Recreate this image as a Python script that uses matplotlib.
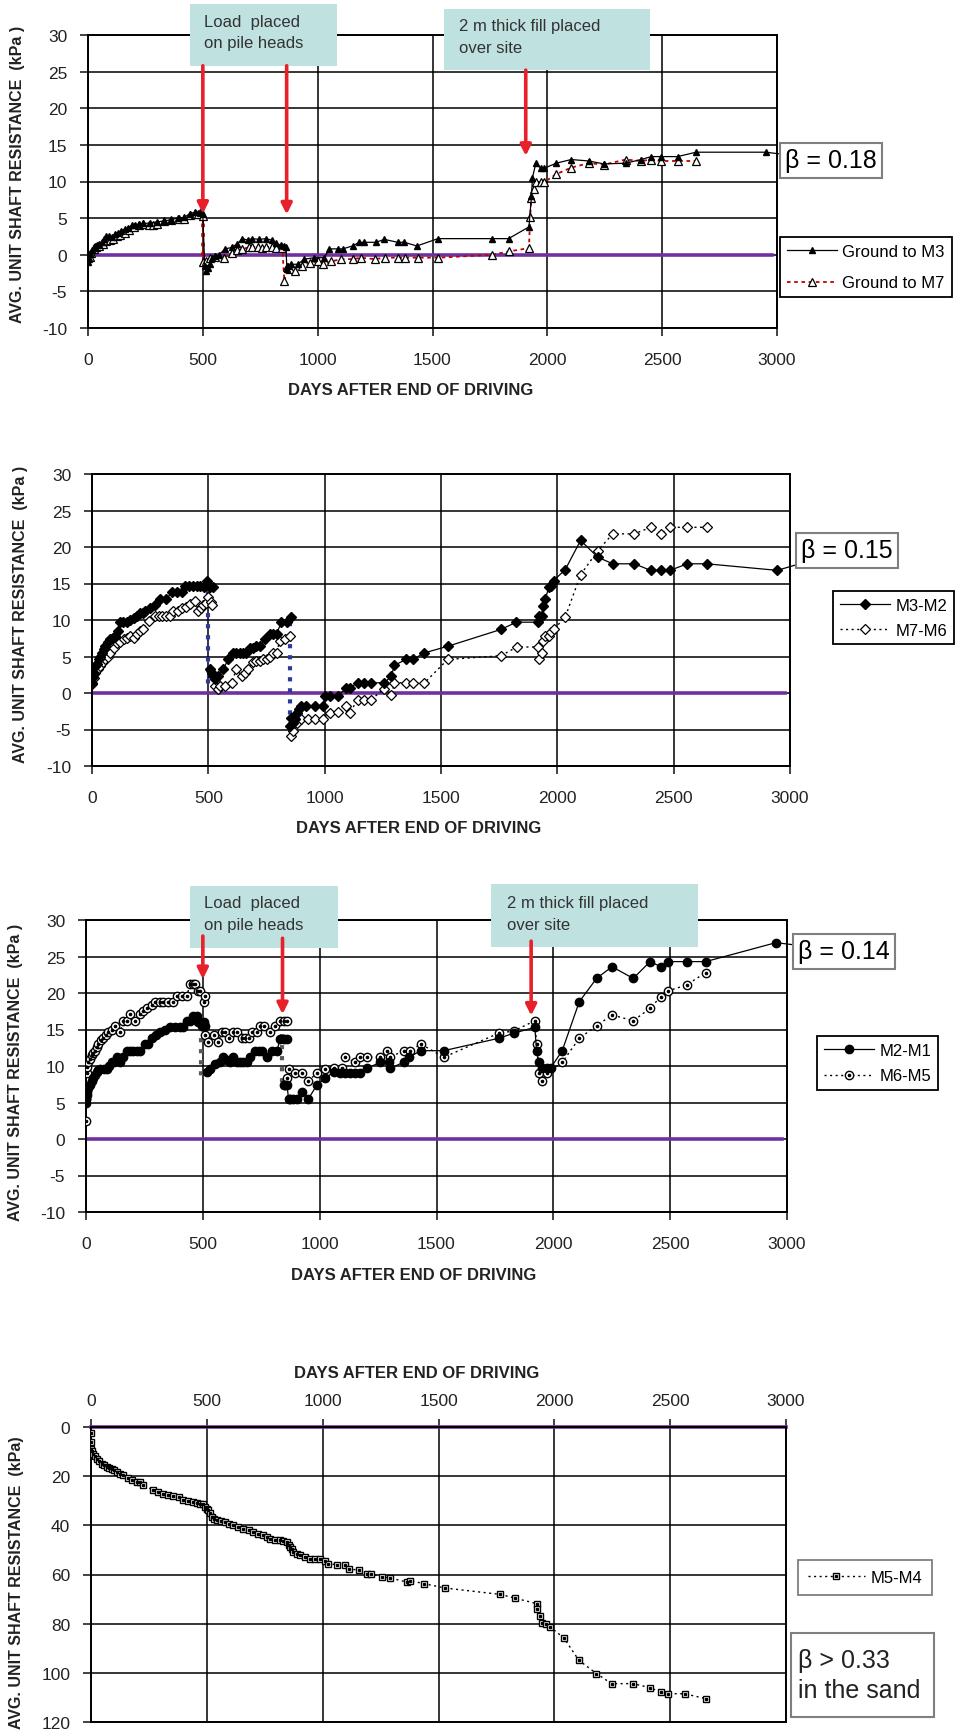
import numpy as np
import matplotlib
matplotlib.use('Agg')
import matplotlib.pyplot as plt
from matplotlib.patches import Rectangle

plt.rcParams['font.family'] = ['Liberation Sans', 'DejaVu Sans']
plt.rcParams['axes.unicode_minus'] = False

nan = np.nan

# ---------------- panel 1 : ground to M3 / M7 ----------------
p1_m3_days = [0, 5, 10, 18, 25, 32, 40, 50, 60, 70, 80, 92, 105, 118, 130, 145, 160, 175, 190, 205,
              220, 240, 270, 300, 330, 362, 390, 420, 442, 465, 487, 500,
              508, 515, 521, 530, 541, 555, 570, 597, 626, 650, 672, 695, 716, 745, 774, 800, 817, 840, 852, 862,
              866, 871, 884, 913, 942, 986, 1029, 1051, 1087, 1109, 1152, 1181, 1203, 1254, 1290, 1348, 1377,
              1432, 1524, 1761, 1831, 1920, 1931, 1935, 1950, 1971, 1986, 2039, 2104, 2181, 2246, 2341, 2409,
              2452, 2494, 2567, 2648, 2950]
p1_m3_vals = [-1.0, -0.5, 0.2, 0.6, 1.0, 1.2, 1.3, 1.5, 1.8, 2.2, 2.5, 2.6, 2.4, 2.9, 3.0, 3.3, 3.5, 3.6, 4.0, 4.1,
              4.2, 4.3, 4.3, 4.5, 4.6, 4.8, 5.0, 5.1, 5.6, 5.8, 5.8, 5.5,
              -1.5, -2.2, -1.8, -1.2, -0.5, -0.2, 0.0, 0.8, 1.0, 1.5, 2.2, 2.0, 2.2, 2.1, 2.2, 2.0, 1.6, 1.3, 1.2, 1.0,
              -2.0, -1.5, -1.3, -1.3, -0.6, -0.4, -0.4, 0.8, 0.8, 0.8, 1.2, 1.7, 1.7, 1.7, 2.1, 1.7, 1.7,
              1.2, 2.2, 2.2, 2.2, 3.8, 8.0, 10.5, 12.5, 11.8, 11.8, 12.5, 13.0, 12.8, 12.4, 12.5, 13.0,
              13.4, 13.4, 13.4, 14.0, 14.0]

p1_m7_days = [0, 8, 15, 25, 35, 50, 65, 80, 95, 110, 125, 140, 160, 180, 200, 220, 240, 265, 283, 300,
              330, 362, 395, 420, 445, 465, 480, 492, 500, 500,
              515, 530, 555, 590, 626, 650, 672, 700, 716, 740, 759, 774, 800, 817, 846, 855,
              866, 880, 902, 930, 966, 1002, 1024, 1060, 1103, 1154, 1190, 1248, 1292, 1350, 1379, 1435,
              1526, 1761, 1831, 1920, 1925, 1931, 1940, 1950, 1971, 1986, 2039, 2104, 2181, 2246, 2341,
              2409, 2452, 2494, 2567, 2648]
p1_m7_vals = [-0.5, -0.3, 0.3, 0.8, 1.0, 1.2, 1.4, 1.9, 2.0, 2.2, 2.5, 2.7, 3.0, 3.4, 3.8, 4.0, 4.2, 4.1, 4.1, 4.2,
              4.6, 4.8, 4.9, 4.9, 5.4, 5.6, 5.5, 5.8, 5.3, -1.0,
              -0.8, -0.5, -0.3, -0.5, 0.3, 0.6, 0.8, 1.0, 1.1, 1.0, 0.9, 1.1, 1.0, 0.9, 0.9, -3.6,
              -1.7, -1.9, -2.2, -1.5, -1.1, -0.9, -1.3, -0.9, -0.6, -0.6, -0.4, -0.6, -0.4, -0.4, -0.4, -0.4,
              -0.4, 0.0, 0.45, 0.9, 5.2, 7.8, 9.0, 9.9, 9.9, 9.9, 11.0, 11.9, 12.5, 12.3, 13.0,
              12.8, 13.0, 12.8, 12.8, 12.8]

# ---------------- panel 2 : M3-M2 / M7-M6 ----------------
p2_m3m2_days = [0, 5, 10, 14, 20, 29, 36, 43, 50, 57, 68, 79, 90, 100, 110, 121, 135, 150, 165, 179,
                193, 207, 218, 229, 250, 271, 293, 320, 343, 365, 386, 400, 418, 436, 450, 464, 480, 493, 507, 521,
                nan,
                507, 514, 521, 529, 543, 564, 586, 607, 621, 636, 650, 664, 679, 693, 707, 721, 743, 764, 779,
                793, 814, 836, 857,
                nan,
                850, 857, 864, 872, 879, 890, 900, 921, 957, 993, 1000, 1021, 1057, 1093, 1107, 1143, 1171,
                1200, 1257, 1286, 1300, 1350, 1379, 1429, 1529, 1757, 1824, 1917, 1921, 1932, 1939, 1949,
                1963, 1974, 1984, 2034, 2100, 2174, 2238, 2331, 2401, 2445, 2484, 2559, 2642, 2945]
p2_m3m2_vals = [1.4, 2.2, 2.8, 3.7, 4.0, 4.6, 5.0, 5.5, 6.0, 6.5, 7.0, 7.4, 7.6, 7.8, 8.5, 9.7, 9.7, 9.7, 10.0, 10.3,
                10.5, 11.0, 11.0, 11.3, 11.7, 12.1, 12.9, 12.9, 13.8, 13.8, 13.8, 14.7, 14.7, 14.7, 14.7, 14.7,
                14.5, 15.4, 14.5, 14.5,
                nan,
                3.3, 2.8, 2.3, 1.9, 2.3, 3.3, 4.6, 5.5, 5.5, 5.5, 5.5, 5.5, 6.2, 6.2, 6.5, 6.5, 7.4, 8.1, 8.1,
                8.1, 9.7, 9.7, 10.4,
                nan,
                -4.5, -3.4, -4.1, -3.6, -2.7, -2.2, -1.8, -1.8, -1.8, -1.8, -0.4, -0.4, -0.4, 0.7, 0.7, 1.4, 1.4,
                1.4, 1.4, 2.3, 3.8, 4.6, 4.6, 5.5, 6.4, 8.7, 9.7, 9.7, 10.6, 10.6, 11.9, 12.9,
                14.5, 14.7, 15.4, 16.9, 20.9, 18.6, 17.7, 17.7, 16.8, 16.8, 16.8, 17.7, 17.7, 16.8]

p2_m7m6_days = [0, 7, 14, 25, 36, 46, 57, 68, 79, 93, 107, 121, 136, 150, 164, 179, 193, 207, 221, 243,
                271, 286, 300, 318, 336, 350, 368, 386, 404, 421, 443, 457, 468, 479, 490, 500, 510, 517,
                nan,
                529, 543, 550, 571, 600, 621, 643, 657, 671, 693, 707, 721, 736, 750, 764, 779, 793, 807, 829, 850,
                nan,
                857, 864, 879, 900, 929, 957, 993, 1021, 1057, 1093, 1107, 1143, 1171, 1200, 1257, 1286, 1300,
                1350, 1379, 1429, 1529, 1757, 1826, 1917, 1921, 1932, 1939, 1949, 1963, 1974, 1984, 2034,
                2100, 2174, 2238, 2331, 2401, 2445, 2484, 2559, 2642]
p2_m7m6_vals = [1.2, 2.0, 2.8, 3.3, 3.7, 4.2, 4.6, 5.0, 5.5, 6.2, 6.9, 7.0, 7.4, 7.5, 7.8, 7.6, 8.1, 8.5, 8.7, 9.8,
                10.6, 10.6, 10.6, 10.6, 10.6, 11.3, 11.3, 11.7, 11.8, 12.2, 12.6, 11.3, 11.6, 12.0, 12.3, 13.1,
                12.5, 12.0,
                nan,
                1.0, 0.6, 1.0, 1.0, 1.4, 3.3, 2.3, 2.8, 3.3, 4.2, 4.4, 4.4, 4.6, 4.6, 5.0, 5.5, 5.5, 7.1, 7.4, 7.8,
                nan,
                -5.9, -5.2, -4.1, -3.6, -3.5, -3.5, -3.5, -2.7, -2.6, -1.8, -2.7, -0.9, -0.9, -0.9, 0.6, -0.3, 1.4,
                1.4, 1.4, 1.4, 4.6, 5.1, 6.3, 6.3, 4.6, 5.5, 7.1, 7.8, 7.8, 8.3, 8.7, 10.4,
                16.2, 19.5, 21.8, 21.8, 22.7, 21.8, 22.7, 22.7, 22.7]

# ---------------- panel 3 : M2-M1 / M6-M5 ----------------
p3_m2m1_days = [0, 0, 3, 6, 10, 17, 24, 31, 39, 46, 53, 60, 75, 89, 100, 110, 120, 131, 146, 160,
                174, 189, 203, 217, 231, 253, 267, 281, 300, 317, 340, 360, 381, 403, 417, 431, 446, 460,
                474, 481, 496, 503, 510,
                nan,
                517, 531, 553, 574, 588, 603, 617, 631, 646, 660, 674, 688, 703, 724, 739, 753, 774, 795, 817,
                831, 846, 860,
                nan,
                846, 853, 860, 867, 874, 888, 903, 924, 952, 988, 1024, 1060, 1088, 1110, 1131, 1152, 1174,
                1202, 1260, 1295, 1302, 1359, 1381, 1434, 1531, 1767, 1831, 1921, 1928, 1938, 1952, 1971,
                1988, 2038, 2111, 2185, 2251, 2342, 2414, 2460, 2492, 2570, 2652, 2953]
p3_m2m1_vals = [4.9, 5.5, 6.0, 6.5, 7.0, 7.4, 7.9, 8.3, 8.8, 9.2, 9.4, 9.6, 9.6, 9.6, 10.0, 10.5, 10.5, 11.2, 10.5, 11.2,
                12.1, 12.1, 12.1, 12.1, 12.1, 13.0, 13.0, 13.9, 14.2, 14.6, 15.0, 15.3, 15.3, 15.3, 15.3, 16.2,
                16.2, 16.9, 16.9, 16.0, 15.5, 16.0, 15.5,
                nan,
                9.2, 9.6, 10.3, 10.5, 11.2, 10.8, 10.5, 11.2, 10.5, 10.5, 10.5, 10.5, 11.2, 12.0, 12.0, 12.0, 11.2,
                12.1, 12.1, 13.7, 13.7, 13.7,
                nan,
                7.4, 7.4, 7.4, 5.5, 5.5, 5.5, 5.5, 6.5, 5.5, 7.4, 8.3, 9.2, 9.0, 9.0, 9.0, 9.0, 9.0,
                9.7, 10.5, 10.5, 9.7, 10.5, 11.2, 12.1, 12.1, 13.8, 14.5, 15.3, 12.1, 10.5, 9.7, 9.7,
                9.7, 12.1, 18.8, 22.0, 23.6, 22.0, 24.3, 23.6, 24.3, 24.3, 24.3, 26.9]

p3_m6m5_days = [0, 0, 3, 6, 10, 17, 24, 31, 39, 46, 53, 64, 74, 85, 96, 110, 124, 146, 160, 174,
                188, 210, 231, 246, 260, 281, 296, 317, 331, 353, 374, 388, 410, 431, 446, 460, 467, 481, 488,
                503, 510,
                nan,
                510, 524, 546, 567, 581, 596, 610, 631, 646, 667, 681, 696, 710, 731, 745, 760, 788, 810, 831,
                846, 860,
                nan,
                860, 867, 895, 924, 952, 988, 1024, 1060, 1095, 1110, 1152, 1174, 1202, 1260, 1288, 1302, 1359,
                1385, 1434, 1531, 1767, 1831, 1921, 1928, 1938, 1952, 1971, 2038, 2111, 2185, 2251, 2342,
                2414, 2460, 2492, 2570, 2652]
p3_m6m5_vals = [2.4, 5.5, 9.0, 9.8, 10.5, 11.0, 11.5, 11.8, 12.1, 12.6, 13.0, 13.5, 13.9, 14.2, 14.6, 15.0, 15.5, 14.6,
                16.2, 16.2, 17.1, 16.2, 17.1, 17.5, 18.0, 18.3, 18.7, 18.8, 18.8, 18.8, 18.8, 19.6, 19.6, 19.6,
                21.2, 21.2, 21.2, 20.3, 20.3, 18.7, 19.6,
                nan,
                14.2, 13.3, 14.2, 13.3, 14.6, 14.6, 13.9, 14.6, 14.6, 13.9, 13.9, 13.9, 14.6, 14.6, 15.5, 15.5,
                14.6, 15.5, 16.2, 16.2, 16.2,
                nan,
                8.3, 9.6, 9.0, 9.0, 8.0, 9.0, 9.6, 9.7, 9.7, 11.2, 10.5, 11.2, 11.2, 11.2, 12.1, 11.2, 12.1,
                12.1, 13.0, 11.2, 14.5, 14.8, 16.2, 13.0, 9.0, 8.0, 9.0, 10.5, 13.8, 15.5, 17.0, 16.2,
                17.9, 19.5, 20.3, 21.1, 22.8]

# ---------------- panel 4 : M5-M4 (sand) ----------------
p4_days = [0, 0, 0, 5, 10, 17, 24, 35, 46, 57, 68, 79, 89, 100, 111, 125, 140, 158, 176, 197,
           212, 226, 269, 290, 312, 334, 356, 378, 399, 420, 442, 457, 471, 482, 492, 500, 507, 514, 521, 530,
           543, 560, 579, 597, 615, 636, 658, 680, 701, 723, 744, 760, 773, 795, 816, 830, 845, 853, 860, 867,
           874, 888, 903, 925, 946, 968, 989, 1010, 1025, 1061, 1097, 1112, 1155, 1191, 1210, 1256, 1292,
           1364, 1378, 1436, 1529, 1767, 1829, 1926, 1926, 1936, 1947, 1966, 1983, 2041, 2106, 2182, 2247,
           2340, 2411, 2459, 2492, 2562, 2653]
p4_vals = [2.3, 6.1, 8.8, 9.8, 10.8, 11.8, 12.9, 13.9, 14.9, 15.6, 16.3, 16.7, 17.0, 17.6, 18.3, 19.0, 19.7, 20.7,
           21.7, 22.4, 22.4, 23.5, 25.8, 26.5, 27.1, 27.5, 28.1, 28.5, 29.8, 30.0, 30.5, 30.8, 31.2, 31.5, 32.5,
           33.2, 33.9, 35.0, 36.6, 37.3, 38.0, 38.2, 38.6, 39.5, 40.0, 40.8, 41.4, 42.0, 42.7, 43.5, 44.1, 44.8,
           45.4, 45.8, 46.1, 46.5, 46.8, 47.8, 48.8, 49.8, 50.8, 51.5, 52.2, 53.0, 53.6, 53.6, 53.6, 54.6, 55.6,
           56.0, 56.3, 57.6, 58.3, 59.7, 59.7, 61.0, 61.4, 63.1, 62.5, 63.7, 65.5, 68.1, 69.6, 71.9, 73.9,
           76.9, 79.6, 80.0, 81.4, 85.8, 94.9, 100.3, 104.4, 104.4, 106.0, 107.8, 108.5, 108.5, 110.5]

zero_days = [0, 2980]
zero_days_p4 = [0, 3000]
zero_vals = [0, 0]

# load drops drawn as thick dotted verticals
p2_drop_days = [497, 850]
p2_drop_top = [14.0, 9.7]
p2_drop_bot = [1.2, -3.1]
p3_drop_days = [493, 838]
p3_drop_top = [16.9, 14.4]
p3_drop_bot = [8.2, 6.9]

# event arrows: day, start, tip
p1_arrow_days = [500, 865, 1906]
p1_arrow_start = [25.8, 25.8, 25.2]
p1_arrow_tip = [5.6, 5.5, 13.5]
p3_arrow_days = [500, 841, 1905]
p3_arrow_start = [27.8, 27.5, 27.1]
p3_arrow_tip = [21.9, 17.1, 16.9]

purple = '#7030A0'
red = '#E8202A'
box_fc = '#BFE1DF'
xlab = 'DAYS AFTER END OF DRIVING'
ylab = 'AVG. UNIT SHAFT RESISTANCE  (kPa )'

W, H = 960, 1731
fig = plt.figure(figsize=(W / 100, H / 100), dpi=100)


def make_ax(l, r, t, b):
    return fig.add_axes([l / W, 1 - b / H, (r - l) / W, (b - t) / H])


def style(ax, ylim, ystep):
    ax.set_xlim(0, 3000)
    ax.set_ylim(*ylim)
    ax.set_xticks(np.arange(0, 3001, 500))
    lo, hi = min(ylim), max(ylim)
    ax.set_yticks(np.arange(lo, hi + 0.1, ystep))
    ax.grid(True, color='black', lw=1.1)
    ax.set_axisbelow(True)
    for s in ax.spines.values():
        s.set_linewidth(1.4)
    ax.tick_params(direction='out', length=6, width=1.2, labelsize=12.5, colors='#222222')
    ax.tick_params(axis='y', pad=9)
    ax.tick_params(axis='x', pad=11)


def event_box(ax, x0, x1, y0, y1, tx, ty, txt):
    ax.add_patch(Rectangle((x0, y0), x1 - x0, y1 - y0, facecolor=box_fc, edgecolor='none',
                           clip_on=False, zorder=6))
    ax.text(tx, ty, txt, fontsize=12, color='#333333', va='top', ha='left', linespacing=1.55,
            zorder=7, clip_on=False)


def arrows(ax, days, starts, tips):
    for d, s, t in zip(days, starts, tips):
        ax.annotate('', xy=(d, t), xytext=(d, s), annotation_clip=False, zorder=8,
                    arrowprops=dict(arrowstyle='-|>', color=red, lw=2.6, mutation_scale=16,
                                    shrinkA=0, shrinkB=0))


def beta(ax, xy, px, py, txt):
    ax.annotate(txt, xy=xy, xycoords='data', xytext=(px, H - py), textcoords='figure pixels',
                fontsize=18, ha='center', va='center', annotation_clip=False,
                bbox=dict(boxstyle='square,pad=0.22', fc='white', ec='#7f7f7f', lw=1.5),
                arrowprops=dict(arrowstyle='-', color='black', lw=0.9, shrinkA=0, shrinkB=0))


def legend(ax, handles, labels, px, py, ec='black', spacing=0.8, hlen=3.0, bpad=0.4):
    leg = ax.legend(handles, labels, loc='upper left', bbox_to_anchor=(px / W, 1 - py / H),
                    bbox_transform=fig.transFigure, borderaxespad=0, fancybox=False, framealpha=1,
                    edgecolor=ec, fontsize=12, handlelength=hlen, labelspacing=spacing,
                    borderpad=bpad, handletextpad=0.35)
    leg.get_frame().set_linewidth(1.3)


# ---- panel 1
ax1 = make_ax(88, 777, 36, 329)
style(ax1, (-10, 30), 5)
ax1.plot(zero_days, zero_vals, color=purple, lw=2.6, zorder=2)
m7, = ax1.plot(p1_m7_days, p1_m7_vals, ls=(0, (2, 2)), color='#C00000', lw=1.3, marker='^', ms=5.5,
               mfc='white', mec='black', mew=0.9, zorder=3)
m3, = ax1.plot(p1_m3_days, p1_m3_vals, ls='-', color='black', lw=0.9, marker='^', ms=4.2,
               mfc='black', mec='black', zorder=4)
ax1.plot([500, 500], [5.5, -1.0], ls=':', color='#C00000', lw=2.6, zorder=3)
event_box(ax1, 442, 1086, 25.7, 34.2, 503, 32.9, 'Load  placed\non pile heads')
event_box(ax1, 1551, 2446, 25.2, 33.6, 1616, 32.3, '2 m thick fill placed\nover site')
arrows(ax1, p1_arrow_days, p1_arrow_start, p1_arrow_tip)
beta(ax1, (p1_m3_days[-1], p1_m3_vals[-1]), 831, 161, 'β = 0.18')
legend(ax1, [m3, m7], ['Ground to M3', 'Ground to M7'], 780, 238, spacing=1.0)
ax1.set_xlabel(xlab, fontsize=12, fontweight='bold', color='#222222')
ax1.xaxis.set_label_coords(0.468, -0.185)
ax1.set_ylabel(ylab, fontsize=11.5, fontweight='bold', color='#222222')
ax1.yaxis.set_label_coords(-0.092, 0.526)

# ---- panel 2
ax2 = make_ax(92, 790, 475, 767)
style(ax2, (-10, 30), 5)
ax2.plot(zero_days, zero_vals, color=purple, lw=2.6, zorder=2)
for d, t, b in zip(p2_drop_days, p2_drop_top, p2_drop_bot):
    ax2.plot([d, d], [t, b], ls=':', color='#2B3A9C', lw=3.0, zorder=3)
m76, = ax2.plot(p2_m7m6_days, p2_m7m6_vals, ls=(0, (1.5, 2.5)), color='black', lw=1.0, marker='D', ms=4.6,
                mfc='white', mec='black', mew=0.9, zorder=4)
m32, = ax2.plot(p2_m3m2_days, p2_m3m2_vals, ls='-', color='black', lw=0.9, marker='D', ms=4.8,
                mfc='black', mec='black', zorder=5)
beta(ax2, (p2_m3m2_days[-1], p2_m3m2_vals[-1]), 847, 551, 'β = 0.15')
legend(ax2, [m32, m76], ['M3-M2', 'M7-M6'], 833, 592, spacing=0.6)
ax2.set_xlabel(xlab, fontsize=12, fontweight='bold', color='#222222')
ax2.xaxis.set_label_coords(0.468, -0.185)
ax2.set_ylabel(ylab, fontsize=11.5, fontweight='bold', color='#222222')
ax2.yaxis.set_label_coords(-0.092, 0.524)

# ---- panel 3
ax3 = make_ax(86, 787, 921, 1213)
style(ax3, (-10, 30), 5)
ax3.plot(zero_days, zero_vals, color=purple, lw=2.6, zorder=2)
for d, t, b in zip(p3_drop_days, p3_drop_top, p3_drop_bot):
    ax3.plot([d, d], [t, b], ls=':', color='#5a5a5a', lw=3.0, zorder=3)
m65, = ax3.plot(p3_m6m5_days, p3_m6m5_vals, ls=(0, (1.5, 2.5)), color='black', lw=1.0, marker='o', ms=6,
                mfc='white', mec='black', mew=1.0, zorder=4)
m65dot, = ax3.plot(p3_m6m5_days, p3_m6m5_vals, ls='none', marker='o', ms=1.6, color='black', zorder=4)
m21, = ax3.plot(p3_m2m1_days, p3_m2m1_vals, ls='-', color='black', lw=0.9, marker='o', ms=6,
                mfc='black', mec='black', zorder=5)
event_box(ax3, 446, 1080, 26.1, 34.7, 507, 33.4, 'Load  placed\non pile heads')
event_box(ax3, 1735, 2618, 26.3, 34.9, 1800, 33.4, '2 m thick fill placed\nover site')
arrows(ax3, p3_arrow_days, p3_arrow_start, p3_arrow_tip)
beta(ax3, (p3_m2m1_days[-1], p3_m2m1_vals[-1]), 844, 952, 'β = 0.14')
legend(ax3, [m21, (m65, m65dot)], ['M2-M1', 'M6-M5'], 817, 1037, spacing=0.65)
ax3.set_xlabel(xlab, fontsize=12, fontweight='bold', color='#222222')
ax3.xaxis.set_label_coords(0.468, -0.188)
ax3.set_ylabel(ylab, fontsize=11.5, fontweight='bold', color='#222222')
ax3.yaxis.set_label_coords(-0.090, 0.483)

# ---- panel 4 (sand, inverted)
ax4 = make_ax(91, 786, 1428, 1723)
style(ax4, (120, 0), 20)
ax4.xaxis.tick_top()
ax4.tick_params(axis='x', pad=8)
ax4.plot(zero_days_p4, zero_vals, color=purple, lw=2.6, zorder=2, clip_on=False)
m54, = ax4.plot(p4_days, p4_vals, ls=(0, (1.5, 2.5)), color='black', lw=1.0, marker='s', ms=4.8,
                mfc='white', mec='black', mew=1.0, zorder=4)
m54dot, = ax4.plot(p4_days, p4_vals, ls='none', marker='s', ms=1.4, color='black', zorder=4)
legend(ax4, [(m54, m54dot)], ['M5-M4'], 798, 1561, ec='#7f7f7f', hlen=3.4, bpad=0.6)
fig.text(798 / W, 1 - 1676 / H, 'β > 0.33\nin the sand', fontsize=18, ha='left', va='center',
         linespacing=1.3, color='#222222')
fig.add_artist(Rectangle((791 / W, 1 - 1718 / H), 143 / W, 84 / H, transform=fig.transFigure,
                         fc='none', ec='#7f7f7f', lw=1.5))
ax4.xaxis.set_label_position('top')
ax4.set_xlabel(xlab, fontsize=12, fontweight='bold', color='#222222')
ax4.xaxis.set_label_coords(0.468, 1.17)
ax4.set_ylabel('AVG. UNIT SHAFT RESISTANCE  (kPa)', fontsize=11.5, fontweight='bold', color='#222222')
ax4.yaxis.set_label_coords(-0.096, 0.475)

fig.savefig('out.png', dpi=100)
